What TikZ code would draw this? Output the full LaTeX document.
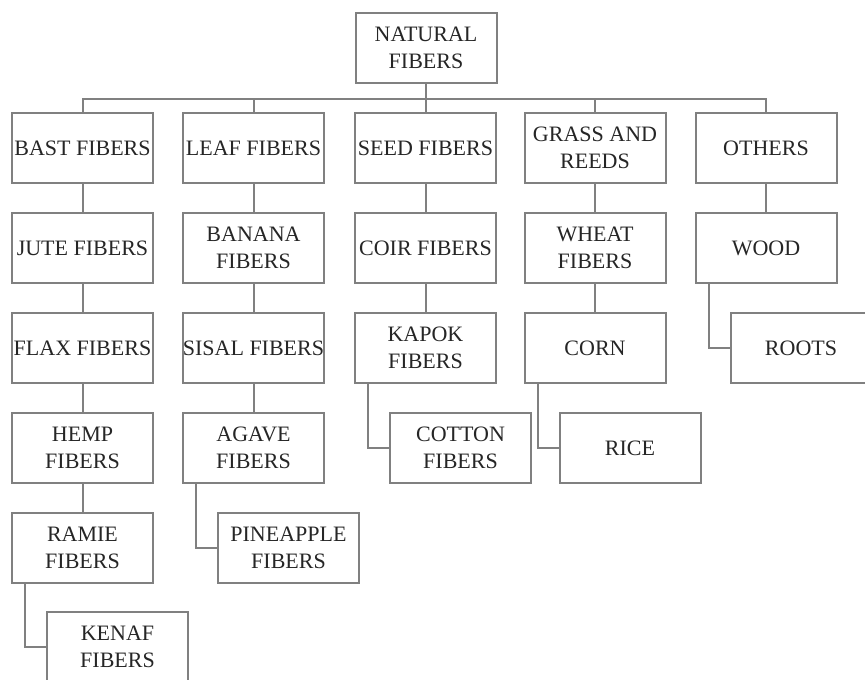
\documentclass[tikz,border=0pt]{standalone}
\usepackage{tikz}
\usepackage{fontspec}
\setmainfont{Liberation Serif}
\definecolor{boxgray}{RGB}{128,128,128}
\tikzset{
  fiber/.style={draw=boxgray, line width=2pt, fill=white,
    minimum width=141pt, minimum height=70pt, inner sep=0pt,
    align=center, text=black!85, font=\fontsize{22}{27}\selectfont},
  link/.style={draw=boxgray, line width=2pt}
}
\begin{document}
\begin{tikzpicture}[x=1pt,y=-1pt]
    \useasboundingbox (0,0) rectangle (865,680);

    % root
    \node[fiber] (natural) at (426,48) {NATURAL\\FIBERS};

    % main groups
    \node[fiber] (bast)   at (82.5,148) {BAST FIBERS};
    \node[fiber] (leaf)   at (253.5,148) {LEAF FIBERS};
    \node[fiber] (seed)   at (425.5,148) {SEED FIBERS};
    \node[fiber] (grass)  at (595,148)   {GRASS AND\\REEDS};
    \node[fiber] (others) at (766,148)   {OTHERS};

    % bast
    \node[fiber] (jute)  at (82.5,248) {JUTE FIBERS};
    \node[fiber] (flax)  at (82.5,348) {FLAX FIBERS};
    \node[fiber] (hemp)  at (82.5,448) {HEMP\\FIBERS};
    \node[fiber] (ramie) at (82.5,548) {RAMIE\\FIBERS};
    \node[fiber] (kenaf) at (117.5,647) {KENAF\\FIBERS};

    % leaf
    \node[fiber] (banana)    at (253.5,248) {BANANA\\FIBERS};
    \node[fiber] (sisal)     at (253.5,348) {SISAL FIBERS};
    \node[fiber] (agave)     at (253.5,448) {AGAVE\\FIBERS};
    \node[fiber] (pineapple) at (288.5,548) {PINEAPPLE\\FIBERS};

    % seed
    \node[fiber] (coir)   at (425.5,248) {COIR FIBERS};
    \node[fiber] (kapok)  at (425.5,348) {KAPOK\\FIBERS};
    \node[fiber] (cotton) at (460.5,448) {COTTON\\FIBERS};

    % grass and reeds
    \node[fiber] (wheat) at (595,248) {WHEAT\\FIBERS};
    \node[fiber] (corn)  at (595,348) {CORN};
    \node[fiber] (rice)  at (630,448) {RICE};

    % others
    \node[fiber] (wood)  at (766,248) {WOOD};
    \node[fiber] (roots) at (801,348) {ROOTS};

    % root to groups
    \foreach \g in {bast,leaf,seed,grass,others}
        \draw[link] (natural.south) -- ++(0,15) -| (\g.north);

    % straight chains
    \draw[link] (bast) -- (jute);
    \draw[link] (jute) -- (flax);
    \draw[link] (flax) -- (hemp);
    \draw[link] (hemp) -- (ramie);
    \draw[link] (leaf) -- (banana);
    \draw[link] (banana) -- (sisal);
    \draw[link] (sisal) -- (agave);
    \draw[link] (seed) -- (coir);
    \draw[link] (coir) -- (kapok);
    \draw[link] (grass) -- (wheat);
    \draw[link] (wheat) -- (corn);
    \draw[link] (others) -- (wood);

    % elbows to the last ones
    \draw[link] ([xshift=14pt]ramie.south west) |- (kenaf.west);
    \draw[link] ([xshift=14pt]agave.south west) |- (pineapple.west);
    \draw[link] ([xshift=14pt]kapok.south west) |- (cotton.west);
    \draw[link] ([xshift=14pt]corn.south west)  |- (rice.west);
    \draw[link] ([xshift=14pt]wood.south west)  |- (roots.west);
\end{tikzpicture}
\end{document}
